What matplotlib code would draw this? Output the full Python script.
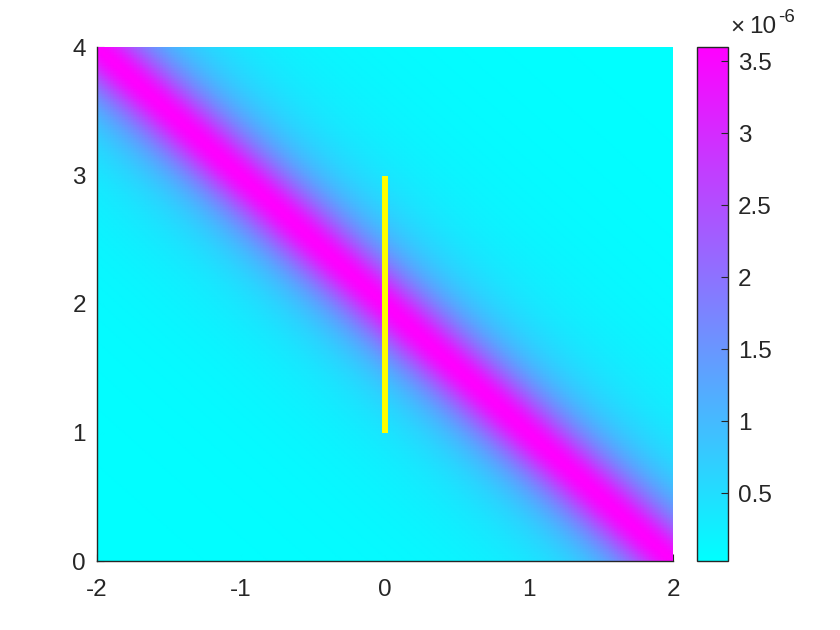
import numpy as np
import matplotlib
matplotlib.use("Agg")
import matplotlib.pyplot as plt
from matplotlib.ticker import FuncFormatter

plt.rcParams['font.family'] = ['Liberation Sans', 'DejaVu Sans']

# Field model: a ridge along x + y = 2 with a Lorentzian-like cross profile
x_range = [-2, 2]
y_range = [0, 4]
ridge_a, ridge_b, ridge_c = 1.0, 1.0, 2.0   # a*x + b*y = c
peak_value = 3.6e-6
ridge_width = 0.25
n_grid = 201

# Yellow segment
seg_x = [0, 0]
seg_y = [1, 3]

x_ticks = [-2, -1, 0, 1, 2]
y_ticks = [0, 1, 2, 3, 4]
cbar_ticks = [0.5e-6, 1e-6, 1.5e-6, 2e-6, 2.5e-6, 3e-6, 3.5e-6]

xs = np.linspace(x_range[0], x_range[1], n_grid)
ys = np.linspace(y_range[0], y_range[1], n_grid)
X, Y = np.meshgrid(xs, ys)
D = np.abs(ridge_a * X + ridge_b * Y - ridge_c) / np.hypot(ridge_a, ridge_b)
Z = peak_value / (1 + (D / ridge_width) ** 2)

txt = '#262626'
fs = 17.5
fig = plt.figure(figsize=(8.4, 6.3), dpi=100)
ax = fig.add_axes([97/840, 69/630, 576/840, 514/630])
cax = fig.add_axes([697/840, 69/630, 31/840, 514/630])

ax.set_axisbelow(True)
im = ax.pcolormesh(X, Y, Z, cmap='cool', shading='gouraud', zorder=1,
                   vmin=Z.min(), vmax=Z.max(), rasterized=True)
ax.plot(seg_x, seg_y, color='#FFFF00', lw=4.3, zorder=3, solid_capstyle='butt')

ax.set_xlim(x_range)
ax.set_ylim(y_range)
ax.set_xticks(x_ticks)
ax.set_yticks(y_ticks)
ax.set_xticklabels([str(v) for v in x_ticks])
ax.set_yticklabels([str(v) for v in y_ticks])
ax.tick_params(direction='in', length=5, labelsize=fs, colors=txt)
ax.tick_params(axis='x', pad=13)
ax.tick_params(axis='y', pad=8)
for s in ['top', 'right']:
    ax.spines[s].set_visible(False)
for s in ['left', 'bottom']:
    ax.spines[s].set_color(txt)
    ax.spines[s].set_linewidth(1.0)

cb = fig.colorbar(im, cax=cax)
cb.set_ticks(cbar_ticks)
cb.ax.yaxis.set_major_formatter(FuncFormatter(lambda v, p: f"{v*1e6:g}"))
cb.ax.tick_params(direction='in', length=5, labelsize=fs, colors=txt, pad=7)
cb.outline.set_edgecolor(txt)
cb.outline.set_linewidth(1.0)
fig.text(730/840, 1 - 28/630, '\u00d7', fontsize=fs, color=txt,
         ha='left', va='center')
fig.text(749/840, 1 - 27/630, '10', fontsize=fs, color=txt,
         ha='left', va='center')
fig.text(778/840, 1 - 17/630, '-6', fontsize=13.5, color=txt,
         ha='left', va='center')

fig.savefig('out.png', dpi=100)
